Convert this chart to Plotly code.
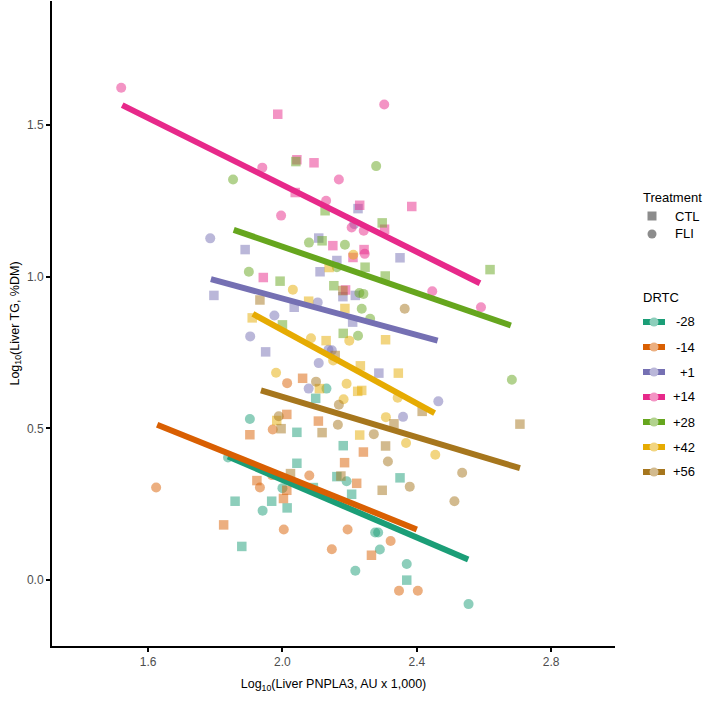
import plotly.graph_objects as go

# ---------------- data ----------------
drtc_levels = ["-28", "-14", "+1", "+14", "+28", "+42", "+56"]
treatments = ["CTL", "FLI"]
colors = ["#1B9E77", "#D95F02", "#7570B3", "#E7298A", "#66A61E", "#E6AB02", "#A6761D"]

x_ticks = [1.6, 2.0, 2.4, 2.8]
x_tick_labels = ["1.6", "2.0", "2.4", "2.8"]
y_ticks = [0.0, 0.5, 1.0, 1.5]
y_tick_labels = ["0.0", "0.5", "1.0", "1.5"]

# DRTC -28
m28_ctl_x = [2.099, 2.043, 2.181, 2.043, 2.162, 2.092, 2.350, 2.206, 1.859, 1.968, 2.014, 1.879, 2.370]
m28_ctl_y = [0.599, 0.487, 0.443, 0.385, 0.341, 0.305, 0.337, 0.283, 0.260, 0.260, 0.238, 0.111, 0.000]
m28_fli_x = [2.131, 1.903, 1.838, 2.000, 2.191, 1.941, 2.276, 2.285, 2.290, 2.217, 2.370, 2.554]
m28_fli_y = [0.631, 0.531, 0.404, 0.303, 0.326, 0.229, 0.157, 0.157, 0.101, 0.031, 0.053, -0.079]
# DRTC -14
m14_ctl_x = [2.060, 2.013, 2.107, 1.903, 2.185, 2.241, 2.221, 1.924, 2.013, 2.003, 1.825, 2.265]
m14_ctl_y = [0.665, 0.546, 0.524, 0.479, 0.387, 0.422, 0.319, 0.328, 0.296, 0.269, 0.182, 0.082]
m14_fli_x = [2.014, 1.971, 2.080, 1.969, 1.933, 1.624, 2.004, 2.194, 2.147, 2.322, 2.347, 2.403]
m14_fli_y = [0.649, 0.496, 0.345, 0.346, 0.305, 0.305, 0.167, 0.167, 0.102, 0.129, -0.035, -0.035]
# DRTC +1
p1_ctl_x = [2.108, 1.889, 2.162, 2.112, 2.180, 1.796, 2.035, 2.225, 2.350, 2.217, 2.209, 1.950, 2.287]
p1_ctl_y = [1.127, 1.089, 1.053, 1.016, 0.934, 0.938, 0.899, 1.224, 1.062, 0.938, 0.850, 0.752, 0.682]
p1_fli_x = [1.785, 2.214, 2.105, 1.976, 1.904, 2.137, 2.147, 2.108, 2.078, 2.464, 2.359]
p1_fli_y = [1.126, 1.173, 0.915, 0.872, 0.803, 0.759, 0.757, 0.715, 0.631, 0.589, 0.538]
# DRTC +14
p14_ctl_x = [1.986, 2.043, 2.094, 2.038, 2.230, 2.385, 2.304, 2.150, 2.210, 2.243, 1.943, 2.188]
p14_ctl_y = [1.535, 1.385, 1.375, 1.277, 1.235, 1.231, 1.156, 1.102, 1.063, 1.089, 0.997, 0.956]
p14_fli_x = [1.520, 1.940, 2.168, 2.130, 1.996, 2.303, 2.206, 2.242, 2.245, 2.446, 2.591]
p14_fli_y = [1.622, 1.359, 1.320, 1.250, 1.201, 1.567, 1.162, 1.151, 1.075, 0.952, 0.899]
# DRTC +28
p28_ctl_x = [2.040, 2.127, 2.118, 2.297, 1.993, 2.153, 2.246, 2.306, 2.618, 2.181, 2.000]
p28_ctl_y = [1.379, 1.217, 1.118, 1.177, 0.985, 0.970, 1.031, 1.002, 1.023, 0.813, 0.841]
p28_fli_x = [1.853, 2.279, 2.079, 2.186, 1.900, 2.162, 2.229, 2.241, 2.236, 2.261, 2.225, 2.683]
p28_fli_y = [1.320, 1.364, 1.112, 1.105, 1.016, 1.031, 0.946, 0.943, 0.894, 0.861, 0.805, 0.660]
# DRTC +42
p42_ctl_x = [2.139, 2.078, 2.186, 1.910, 2.130, 2.307, 2.232, 2.345, 2.110, 2.224, 2.236, 1.983, 2.230]
p42_ctl_y = [1.030, 0.919, 0.895, 0.864, 0.789, 0.792, 0.706, 0.682, 0.631, 0.622, 0.625, 0.526, 0.478]
p42_fli_x = [2.031, 2.085, 2.199, 2.151, 1.981, 2.191, 2.182, 2.343, 2.308, 2.368, 2.455, 2.211]
p42_fli_y = [0.957, 0.797, 0.789, 0.724, 0.683, 0.647, 0.596, 0.601, 0.537, 0.452, 0.413, 1.072]
# DRTC +56
p56_ctl_x = [2.180, 1.933, 2.157, 2.416, 2.332, 2.707, 2.118, 1.996, 2.307, 2.174, 2.024, 2.297]
p56_ctl_y = [0.954, 0.923, 0.740, 0.556, 0.515, 0.514, 0.486, 0.499, 0.442, 0.343, 0.351, 0.296]
p56_fli_x = [2.364, 2.100, 2.168, 1.989, 2.165, 2.272, 2.314, 2.535, 2.379, 2.512]
p56_fli_y = [0.894, 0.654, 0.578, 0.540, 0.512, 0.481, 0.391, 0.354, 0.308, 0.260]

# fitted regression line end points per DRTC level
fit_x_start = [1.838, 1.627, 1.787, 1.523, 1.855, 1.912, 1.936]
fit_y_start = [0.407, 0.512, 0.992, 1.565, 1.154, 0.877, 0.625]
fit_x_end = [2.553, 2.400, 2.462, 2.588, 2.680, 2.453, 2.707]
fit_y_end = [0.068, 0.167, 0.789, 0.978, 0.839, 0.550, 0.369]

ctl_x = [m28_ctl_x, m14_ctl_x, p1_ctl_x, p14_ctl_x, p28_ctl_x, p42_ctl_x, p56_ctl_x]
ctl_y = [m28_ctl_y, m14_ctl_y, p1_ctl_y, p14_ctl_y, p28_ctl_y, p42_ctl_y, p56_ctl_y]
fli_x = [m28_fli_x, m14_fli_x, p1_fli_x, p14_fli_x, p28_fli_x, p42_fli_x, p56_fli_x]
fli_y = [m28_fli_y, m14_fli_y, p1_fli_y, p14_fli_y, p28_fli_y, p42_fli_y, p56_fli_y]

# ---------------- figure ----------------
W, H = 707, 713
ML, MR, MT, MB = 52, 92, 1, 67
PW, PH = W - ML - MR, H - MT - MB
FONT = "Liberation Sans, Arial, sans-serif"

fig = go.Figure()

for i, lvl in enumerate(drtc_levels):
    fig.add_trace(go.Scatter(
        x=ctl_x[i], y=ctl_y[i], mode="markers", name=f"{lvl} CTL", showlegend=False,
        marker=dict(symbol="square", size=9.5, color=colors[i], opacity=0.5, line=dict(width=0)),
        hoverinfo="skip"))
    fig.add_trace(go.Scatter(
        x=fli_x[i], y=fli_y[i], mode="markers", name=f"{lvl} FLI", showlegend=False,
        marker=dict(symbol="circle", size=10, color=colors[i], opacity=0.5, line=dict(width=0)),
        hoverinfo="skip"))

for i, lvl in enumerate(drtc_levels):
    fig.add_trace(go.Scatter(
        x=[fit_x_start[i], fit_x_end[i]], y=[fit_y_start[i], fit_y_end[i]],
        mode="lines", name=f"{lvl} fit", showlegend=False,
        line=dict(color=colors[i], width=6), hoverinfo="skip"))


def px_to_paper(px, py):
    return (px - ML) / PW, (H - MB - py) / PH


shapes = []
annotations = []


def add_text(text, px, py, size=13, xanchor="left"):
    xp, yp = px_to_paper(px, py)
    annotations.append(dict(text=text, x=xp, y=yp, xref="paper", yref="paper",
                            xanchor=xanchor, yanchor="middle", showarrow=False,
                            font=dict(family=FONT, size=size, color="#000000")))


def lighten(hexcol, f=0.5):
    r, g, b = int(hexcol[1:3], 16), int(hexcol[3:5], 16), int(hexcol[5:7], 16)
    r, g, b = [int(c * (1 - f) + 255 * f) for c in (r, g, b)]
    return f"rgb({r},{g},{b})"


# Treatment legend
add_text("Treatment", 641, 197)
tr_y = [216, 234]
for j, t in enumerate(treatments):
    xp, yp = px_to_paper(652, tr_y[j])
    shapes.append(dict(type="rect" if t == "CTL" else "circle", xref="paper", yref="paper",
                       xsizemode="pixel", ysizemode="pixel", xanchor=xp, yanchor=yp,
                       x0=-4.5, x1=4.5, y0=-4.5, y1=4.5,
                       fillcolor="#8c8c8c", line=dict(width=0)))
    add_text(t, 673, tr_y[j])

# DRTC legend
add_text("DRTC", 641, 297)
for i, lvl in enumerate(drtc_levels):
    ky = 322 + 25 * i
    xa, ya = px_to_paper(643, ky)
    xb, _ = px_to_paper(665, ky)
    shapes.append(dict(type="line", xref="paper", yref="paper", x0=xa, x1=xb, y0=ya, y1=ya,
                       line=dict(color=colors[i], width=6)))
    xc, yc = px_to_paper(654, ky)
    shapes.append(dict(type="circle", xref="paper", yref="paper",
                       xsizemode="pixel", ysizemode="pixel", xanchor=xc, yanchor=yc,
                       x0=-4.5, x1=4.5, y0=-4.5, y1=4.5,
                       fillcolor=lighten(colors[i]), line=dict(width=0)))
    add_text(lvl, 697, ky, xanchor="right")

fig.update_layout(
    width=W, height=H,
    margin=dict(l=ML, r=MR, t=MT, b=MB, autoexpand=False),
    paper_bgcolor="white", plot_bgcolor="white",
    font=dict(family=FONT, size=12, color="#000000"),
    showlegend=False,
    shapes=shapes, annotations=annotations,
    xaxis=dict(range=[1.314, 2.990], tickvals=x_ticks, ticktext=x_tick_labels,
               showgrid=False, zeroline=False, showline=True, linecolor="black", linewidth=2,
               ticks="outside", ticklen=4, tickwidth=1.5, tickcolor="black",
               tickfont=dict(family=FONT, size=12, color="#4D4D4D"),
               title=dict(text="Log<sub>10</sub>(Liver PNPLA3, AU x 1,000)",
                          font=dict(family=FONT, size=12.5, color="#000000"), standoff=11),
               automargin=False),
    yaxis=dict(range=[-0.217, 1.908], tickvals=y_ticks, ticktext=y_tick_labels,
               showgrid=False, zeroline=False, showline=True, linecolor="black", linewidth=2,
               ticks="outside", ticklen=4, tickwidth=1.5, tickcolor="black",
               tickfont=dict(family=FONT, size=12, color="#4D4D4D"),
               title=dict(text="Log<sub>10</sub>(Liver TG, %DM)",
                          font=dict(family=FONT, size=12.5, color="#000000"), standoff=5),
               automargin=False),
)

fig.write_html("out.html", config={"displayModeBar": False},
               post_script="document.body.style.margin='0';")
